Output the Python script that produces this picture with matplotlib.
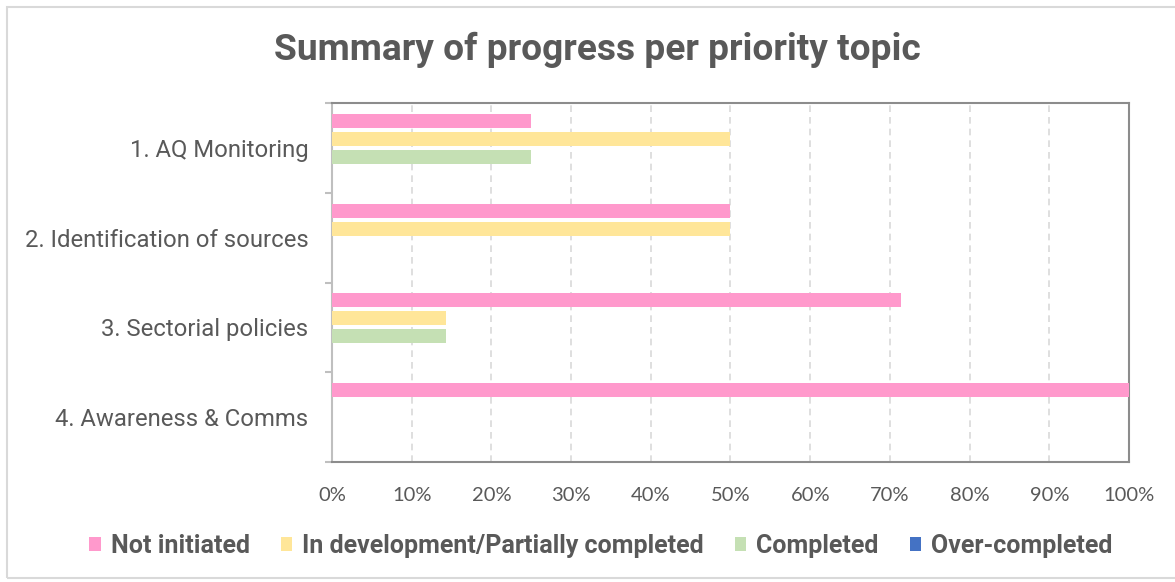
import matplotlib.pyplot as plt
import numpy as np
from matplotlib.patches import Rectangle

topics = ['1. AQ Monitoring', '2. Identification of sources',
          '3. Sectorial policies', '4. Awareness & Comms']
series = ['Not initiated', 'In development/Partially completed',
          'Completed', 'Over-completed']
not_initiated = [25.0, 50.0, 71.4, 100.0]
in_development = [50.0, 50.0, 14.3, 0.0]
completed = [25.0, 0.0, 14.3, 0.0]
over_completed = [0.0, 0.0, 0.0, 0.0]
colors = ['#FF99CC', '#FFE699', '#C5E0B4', '#4472C4']
x_ticks = np.arange(0, 101, 10)

grey = '#595959'

fig = plt.figure(figsize=(11.75, 5.82), dpi=100)
fig.patches.append(Rectangle((7 / 1175, 4 / 582), 1.1, 571 / 582,
                             transform=fig.transFigure, fill=False,
                             edgecolor='#d9d9d9', linewidth=1.5))
ax = fig.add_axes([332 / 1175, 1 - 462 / 582, 797 / 1175, 359 / 582])

y = np.arange(len(topics))
step = 0.2
for j, vals in enumerate([not_initiated, in_development, completed, over_completed]):
    ax.barh(y + (j - 1.5) * step, vals, height=0.155, color=colors[j],
            label=series[j], zorder=3)

ax.set_xlim(0, 100)
ax.set_ylim(3.5, -0.5)
ax.set_xticks(x_ticks)
ax.set_xticklabels([f'{v}%' for v in x_ticks], fontsize=14.5, color=grey,
                   family='Lato')
ax.tick_params(axis='x', length=0, pad=18)
ax.grid(axis='x', color='#d9d9d9', linestyle=(0, (4, 3)), linewidth=1.2, zorder=0)

ax.set_yticks(np.arange(-0.5, 4, 1))
ax.set_yticklabels([])
ax.tick_params(axis='y', which='major', length=5, color='#bfbfbf', width=1.5)
ax.set_yticks(y, minor=True)
ax.set_yticklabels(topics, minor=True, fontsize=17.2, color=grey, family='Roboto')
ax.tick_params(axis='y', which='minor', length=0, pad=17)

for side in ['top', 'right', 'bottom']:
    ax.spines[side].set_color('#8c8c8c')
    ax.spines[side].set_linewidth(1.5)
ax.spines['left'].set_color('#bfbfbf')
ax.spines['left'].set_linewidth(1.5)

fig.text(597 / 1175, 1 - 50 / 582, 'Summary of progress per priority topic',
         ha='center', va='center', fontsize=26.7, fontweight='bold',
         color=grey, family='Roboto')

leg = fig.legend(loc='center', bbox_to_anchor=(601 / 1175, 1 - 546 / 582),
                 ncol=4, frameon=False, handlelength=0.45, handleheight=0.45,
                 handletextpad=0.4, columnspacing=1.25,
                 prop={'family': 'Roboto', 'weight': 'bold', 'size': 18})
for t in leg.get_texts():
    t.set_color(grey)

fig.savefig('out.png', dpi=100)
